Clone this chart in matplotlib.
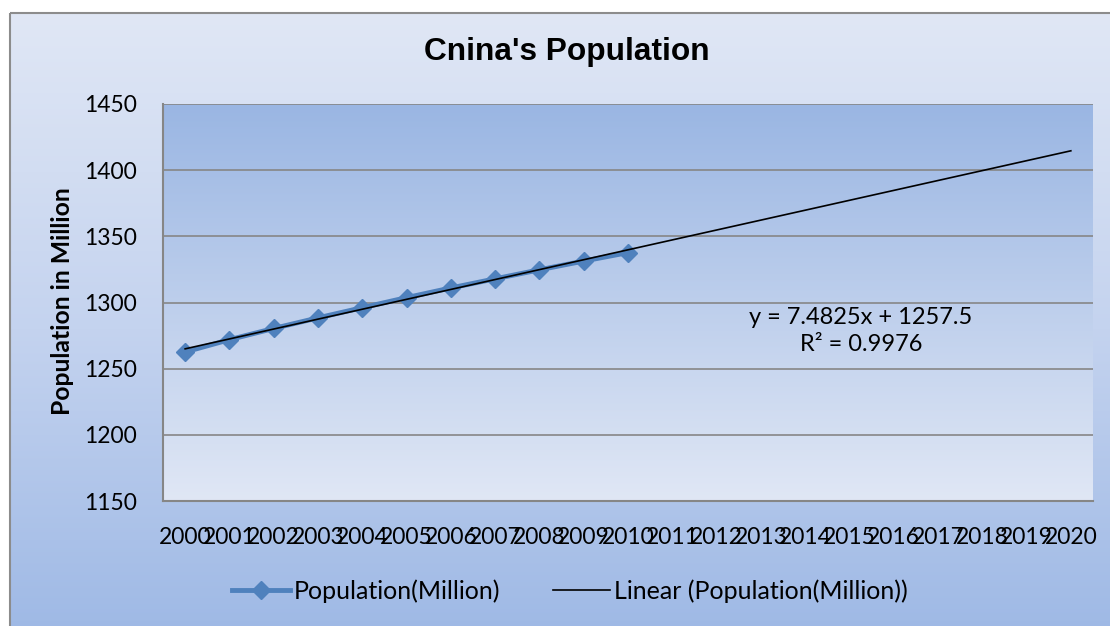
import numpy as np
import matplotlib.pyplot as plt
from matplotlib.colors import LinearSegmentedColormap
from matplotlib.patches import Rectangle

YEARS      = list(range(2000, 2021))
POPULATION = [1262.6, 1271.9, 1280.4, 1288.4, 1296.1, 1303.7,
              1311.0, 1317.9, 1324.7, 1331.3, 1337.7]   # 2000-2010
TREND_SLOPE     = 7.4825
TREND_INTERCEPT = 1257.5
Y_TICKS    = [1150, 1200, 1250, 1300, 1350, 1400, 1450]

W, H = 1110, 626
PLOT_L, PLOT_R, PLOT_T, PLOT_B = 163, 1093, 104, 501
BLUE  = "#4f81bd"
GRAY  = "#868686"
FONT  = "Lato"

fig = plt.figure(figsize=(W / 100, H / 100), dpi=100)
fig.patch.set_facecolor("white")

# fondo en coordenadas de pixel
bg = fig.add_axes([0, 0, 1, 1], zorder=-10)
grad = np.linspace(0, 1, 256).reshape(-1, 1)
outer_cmap = LinearSegmentedColormap.from_list("outer", ["#e0e7f5", "#c4d3ef", "#9db8e5"])
plot_cmap  = LinearSegmentedColormap.from_list("plot", ["#9ab6e3", "#e0e7f5"])
bg.imshow(grad, cmap=outer_cmap, extent=[10, W + 20, H + 20, 13], aspect="auto")
bg.imshow(grad, cmap=plot_cmap, extent=[PLOT_L, PLOT_R, PLOT_B, PLOT_T], aspect="auto")
bg.add_patch(Rectangle((10, 13), W + 20, H + 20, fill=False, ec="#8c8c8c", lw=1.5))
bg.set_xlim(0, W)
bg.set_ylim(H, 0)
bg.axis("off")

ax = fig.add_axes([PLOT_L / W, 1 - PLOT_B / H,
                   (PLOT_R - PLOT_L) / W, (PLOT_B - PLOT_T) / H])
ax.patch.set_alpha(0)

x_data  = np.arange(len(POPULATION))
x_all   = np.arange(len(YEARS))
trend   = TREND_SLOPE * (x_all + 1) + TREND_INTERCEPT

ax.plot(x_data, POPULATION, color=BLUE, lw=3.5, marker="D", ms=9.5,
        mec=BLUE, mfc=BLUE, label="Population(Million)", zorder=3)
ax.plot(x_all, trend, color="black", lw=1.2, label="Linear (Population(Million))", zorder=4)

ax.set_xlim(-0.5, len(YEARS) - 0.5)
ax.set_ylim(1150, 1450)
ax.set_yticks(Y_TICKS)
ax.set_xticks(x_all)
ax.set_xticklabels([str(y) for y in YEARS])
ax.tick_params(axis="both", length=0, labelsize=16.5)
ax.tick_params(axis="y", pad=19)
ax.tick_params(axis="x", pad=19)
for lab in ax.get_xticklabels() + ax.get_yticklabels():
    lab.set_fontfamily(FONT)

ax.grid(axis="y", color=GRAY, lw=1.2)
ax.set_axisbelow(True)
for side in ["top", "right"]:
    ax.spines[side].set_visible(False)
for side in ["left", "bottom"]:
    ax.spines[side].set_color(GRAY)
    ax.spines[side].set_linewidth(1.5)

ax.text((861 - PLOT_L) / (PLOT_R - PLOT_L), (PLOT_B - 331) / (PLOT_B - PLOT_T),
        "y = 7.4825x + 1257.5\nR² = 0.9976", transform=ax.transAxes,
        ha="center", va="center", fontsize=17, family=FONT, linespacing=1.4)

fig.text(567 / W, 1 - 52 / H, "Cnina's Population", ha="center", va="center",
         fontsize=22.8, fontweight="bold", family="Liberation Sans")
fig.text(63 / W, 1 - 301 / H, "Population in Million", ha="center", va="center",
         rotation=90, fontsize=17.8, fontweight="bold", family=FONT)

fig.legend(loc="center", bbox_to_anchor=(570 / W, 1 - 591 / H), ncol=2,
           frameon=False, prop={"family": FONT, "size": 18}, numpoints=1,
           handlelength=2.3, handletextpad=0.15, columnspacing=2.1)

fig.savefig("out.png", dpi=100)
